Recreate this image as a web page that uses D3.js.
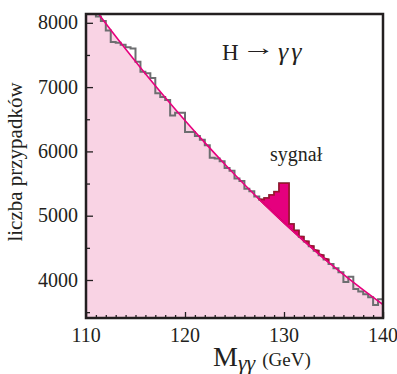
<!DOCTYPE html>
<html>
<head>
<meta charset="utf-8">
<script src="https://cdn.jsdelivr.net/npm/d3@7"></script>
<style>
  body { margin: 0; background: #fff; }
  svg { display: block; }
  text { font-family: "Liberation Serif", "DejaVu Serif", serif; fill: #231f20; }
</style>
</head>
<body>
<div id="chart"></div>
<script>
// histogram: 0.5 GeV bins from 110 to 140 GeV
const binLow = 110;
const binWidth = 0.5;
const counts = [
  8200, 8190, 8100, 8030, 7880, 7700, 7690, 7660, 7620, 7600,
  7395, 7240, 7215, 7140, 6904, 6846, 6800, 6560, 6600, 6600,
  6300, 6300, 6240, 6180, 6094, 5900, 5890, 5846, 5740, 5700,
  5580, 5540, 5420, 5380, 5300, 5250, 5275, 5322, 5373, 5505,
  5505, 4870, 4771, 4672, 4600, 4526, 4455, 4385, 4320, 4250,
  4181, 4120, 3970, 4050, 3860, 3820, 3780, 3730, 3610, 3700
];

// background fit (smooth curve)
const fitMass = [110, 112, 114, 116, 118, 120, 122, 124, 126, 128, 130, 132, 134, 136, 138, 140];
const fitCounts = [8399, 7990, 7593, 7209, 6839, 6481, 6137, 5805, 5486, 5181, 4888, 4608, 4341, 4088, 3847, 3619];

// signal window
const signalRange = [127.5, 134.5];

const xTicks = [110, 120, 130, 140];
const yTicks = [4000, 5000, 6000, 7000, 8000];

const W = 397, H = 374;
const margin = { top: 14, right: 14, bottom: 56, left: 86 };
const width = W - margin.left - margin.right;
const height = H - margin.top - margin.bottom;

const svg = d3.select('#chart').append('svg')
  .attr('width', W)
  .attr('height', H);

const g = svg.append('g')
  .attr('transform', `translate(${margin.left}, ${margin.top})`);

const x = d3.scaleLinear().domain([110, 140]).range([0, width]);
const y = d3.scaleLinear().domain([3409, 8137]).range([height, 0]);

const fitAt = d3.scaleLinear().domain(fitMass).range(fitCounts);

svg.append('defs').append('clipPath').attr('id', 'plot-clip')
  .append('rect').attr('width', width).attr('height', height);

const plot = g.append('g').attr('clip-path', 'url(#plot-clip)');

const fitData = fitMass.map((m, i) => ({ m, v: fitCounts[i] }));

// pink fill under the fit
plot.append('path')
  .datum(fitData)
  .attr('fill', '#f9d3e4')
  .attr('d', d3.area()
    .x(d => x(d.m))
    .y0(height)
    .y1(d => y(d.v))
    .curve(d3.curveNatural));

// histogram outline
const bins = counts.map((c, i) => ({ lo: binLow + i * binWidth, hi: binLow + (i + 1) * binWidth, c }));
const stepPts = bins.map(b => [b.lo, b.c]).concat([[140, counts[counts.length - 1]]]);

plot.append('path')
  .datum(stepPts)
  .attr('fill', 'none')
  .attr('stroke', '#6d6e70')
  .attr('stroke-width', 2)
  .attr('d', d3.line()
    .x(d => x(d[0]))
    .y(d => y(d[1]))
    .curve(d3.curveStepAfter));

// signal excess above the fit
const sigPts = [];
bins.filter(b => b.lo >= signalRange[0] && b.hi <= signalRange[1]).forEach(b => {
  [b.lo, b.hi].forEach(m => {
    const f = fitAt(m);
    sigPts.push({ m, top: Math.max(b.c, f), bot: f });
  });
});

plot.append('path')
  .datum(sigPts)
  .attr('fill', '#e5007e')
  .attr('stroke', '#a1122f')
  .attr('stroke-width', 1.6)
  .attr('d', d3.area()
    .x(d => x(d.m))
    .y0(d => y(d.bot))
    .y1(d => y(d.top)));

// fit line
plot.append('path')
  .datum(fitData)
  .attr('fill', 'none')
  .attr('stroke', '#e6007e')
  .attr('stroke-width', 1.6)
  .attr('d', d3.line()
    .x(d => x(d.m))
    .y(d => y(d.v))
    .curve(d3.curveNatural));

// axes
const xAxis = g.append('g')
  .attr('transform', `translate(0, ${height})`)
  .call(d3.axisBottom(x).tickValues(d3.range(110, 141, 1)).tickSize(-3).tickFormat(''));
xAxis.selectAll('.tick line').filter(d => d % 10 === 0).attr('y2', -6);

const yAxis = g.append('g')
  .call(d3.axisLeft(y).tickValues(d3.range(3500, 8001, 500)).tickSize(-4).tickFormat(''));
yAxis.selectAll('.tick line').filter(d => d % 1000 === 0).attr('x2', 7);

[xAxis, yAxis].forEach(a => {
  a.select('.domain').remove();
  a.selectAll('.tick line').attr('stroke', '#231f20').attr('stroke-width', 1.3);
});

// frame
g.append('rect')
  .attr('width', width)
  .attr('height', height)
  .attr('fill', 'none')
  .attr('stroke', '#231f20')
  .attr('stroke-width', 2.5);

// tick labels
g.selectAll('.xlab')
  .data(xTicks)
  .enter().append('text')
  .attr('x', d => x(d))
  .attr('y', height + 24)
  .attr('text-anchor', 'middle')
  .attr('font-size', '20px')
  .text(d => d);

g.selectAll('.ylab')
  .data(yTicks)
  .enter().append('text')
  .attr('x', -8)
  .attr('y', d => y(d) + 6.5)
  .attr('text-anchor', 'end')
  .attr('font-size', '20px')
  .text(d => d);

// axis titles
g.append('text')
  .attr('transform', 'rotate(-90)')
  .attr('x', -height / 2 + 4)
  .attr('y', -64)
  .attr('text-anchor', 'middle')
  .attr('font-size', '21px')
  .text('liczba przypadków');

const xTitle = g.append('text')
  .attr('x', 127)
  .attr('y', height + 48);
xTitle.append('tspan').attr('font-size', '28px').text('M');
xTitle.append('tspan').attr('font-size', '22px').attr('font-style', 'italic').attr('dy', 4).text('γγ');
xTitle.append('tspan').attr('font-size', '19px').attr('dy', -4).attr('dx', 7).text('(GeV)');

// annotations
g.append('text')
  .attr('x', 136)
  .attr('y', 46)
  .attr('font-size', '23px')
  .text('H');
g.append('text')
  .attr('x', 155)
  .attr('y', 41)
  .attr('font-size', '23px')
  .attr('textLength', 34)
  .attr('lengthAdjust', 'spacingAndGlyphs')
  .text('\u2192');
g.append('text')
  .attr('x', 192)
  .attr('y', 46)
  .attr('font-size', '26px')
  .attr('font-style', 'italic')
  .attr('letter-spacing', 3)
  .text('γγ');

g.append('text')
  .attr('x', 184)
  .attr('y', 147)
  .attr('font-size', '20px')
  .text('sygnał');
</script>
</body>
</html>
